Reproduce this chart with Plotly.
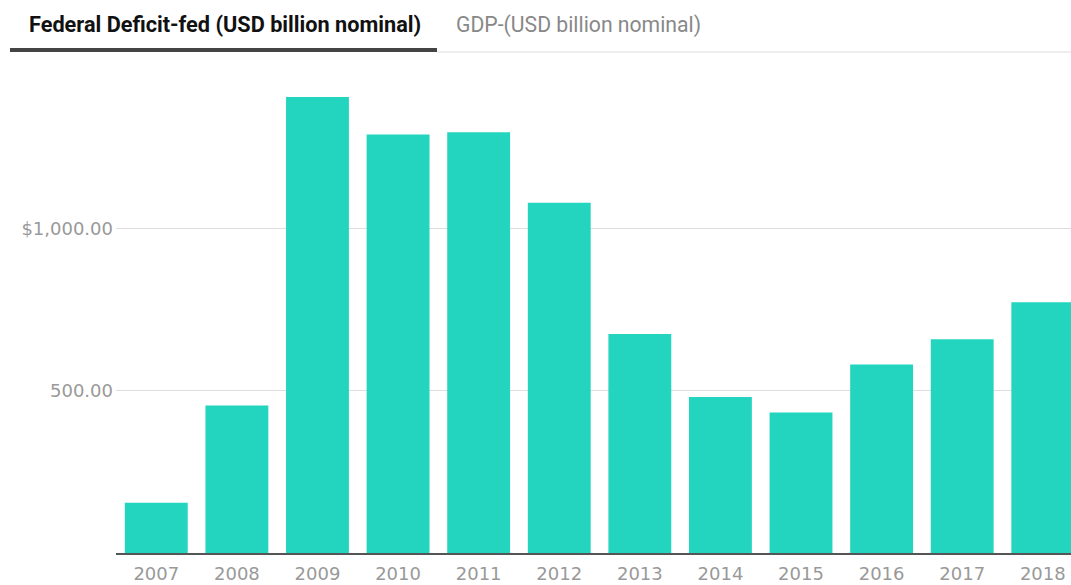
import plotly.graph_objects as go

years = ["2007", "2008", "2009", "2010", "2011", "2012", "2013", "2014", "2015", "2016", "2017", "2018"]
deficit = [155, 455, 1406, 1290, 1297, 1080, 675, 481, 433, 581, 659, 773]
tick_vals = [500, 1000]
tick_text = ["500.00", "$1,000.00"]
tab_active = "Federal Deficit-fed (USD billion nominal)"
tab_inactive = "GDP-(USD billion nominal)"

W, H = 1071, 585
ml, mr, mt, mb = 116, 0, 70, 32

fig = go.Figure(go.Bar(
    x=list(range(len(years))), y=deficit,
    marker=dict(color="#23d4be", line=dict(width=0)),
    hoverinfo="skip",
))

fig.update_layout(
    width=W, height=H,
    margin=dict(l=ml, r=mr, t=mt, b=mb),
    paper_bgcolor="white", plot_bgcolor="white",
    bargap=0.22,
    showlegend=False,
    font=dict(family="DejaVu Sans", size=18, color="#999999"),
    xaxis=dict(
        range=[-0.5, 11.35],
        tickmode="array", tickvals=list(range(len(years))), ticktext=years,
        showline=True, linecolor="#555555", linewidth=2,
        showgrid=False, ticks="", zeroline=False,
        ticklabelstandoff=3,
        tickfont=dict(family="DejaVu Sans", size=18, color="#999999"),
        fixedrange=True,
    ),
    yaxis=dict(
        range=[0, 1489],
        tickmode="array", tickvals=tick_vals, ticktext=tick_text,
        showgrid=True, gridcolor="#dedede", gridwidth=1,
        zeroline=False, showline=False, ticks="",
        ticklabelstandoff=2,
        tickfont=dict(family="DejaVu Sans", size=18, color="#999999"),
        fixedrange=True,
    ),
    annotations=[
        dict(text="<b>" + tab_active + "</b>", xref="paper", yref="paper",
             x=(27 - ml) / (W - ml - mr), y=1 + (mt - 25) / (H - mt - mb),
             xanchor="left", yanchor="middle", showarrow=False,
             font=dict(family="Roboto", size=21.7, color="#111111")),
        dict(text=tab_inactive, xref="paper", yref="paper",
             x=(454 - ml) / (W - ml - mr), y=1 + (mt - 25) / (H - mt - mb),
             xanchor="left", yanchor="middle", showarrow=False,
             font=dict(family="Roboto", size=21.2, color="#888888")),
    ],
    shapes=[
        dict(type="line", xref="paper", yref="paper",
             x0=(437 - ml) / (W - ml - mr), x1=1.0,
             y0=1 + (mt - 52) / (H - mt - mb), y1=1 + (mt - 52) / (H - mt - mb),
             line=dict(color="#dddddd", width=1)),
        dict(type="line", xref="paper", yref="paper",
             x0=(10 - ml) / (W - ml - mr), x1=(437 - ml) / (W - ml - mr),
             y0=1 + (mt - 50) / (H - mt - mb), y1=1 + (mt - 50) / (H - mt - mb),
             line=dict(color="#444444", width=4)),
    ],
)

fig.write_html("out.html", config={"displayModeBar": False})
